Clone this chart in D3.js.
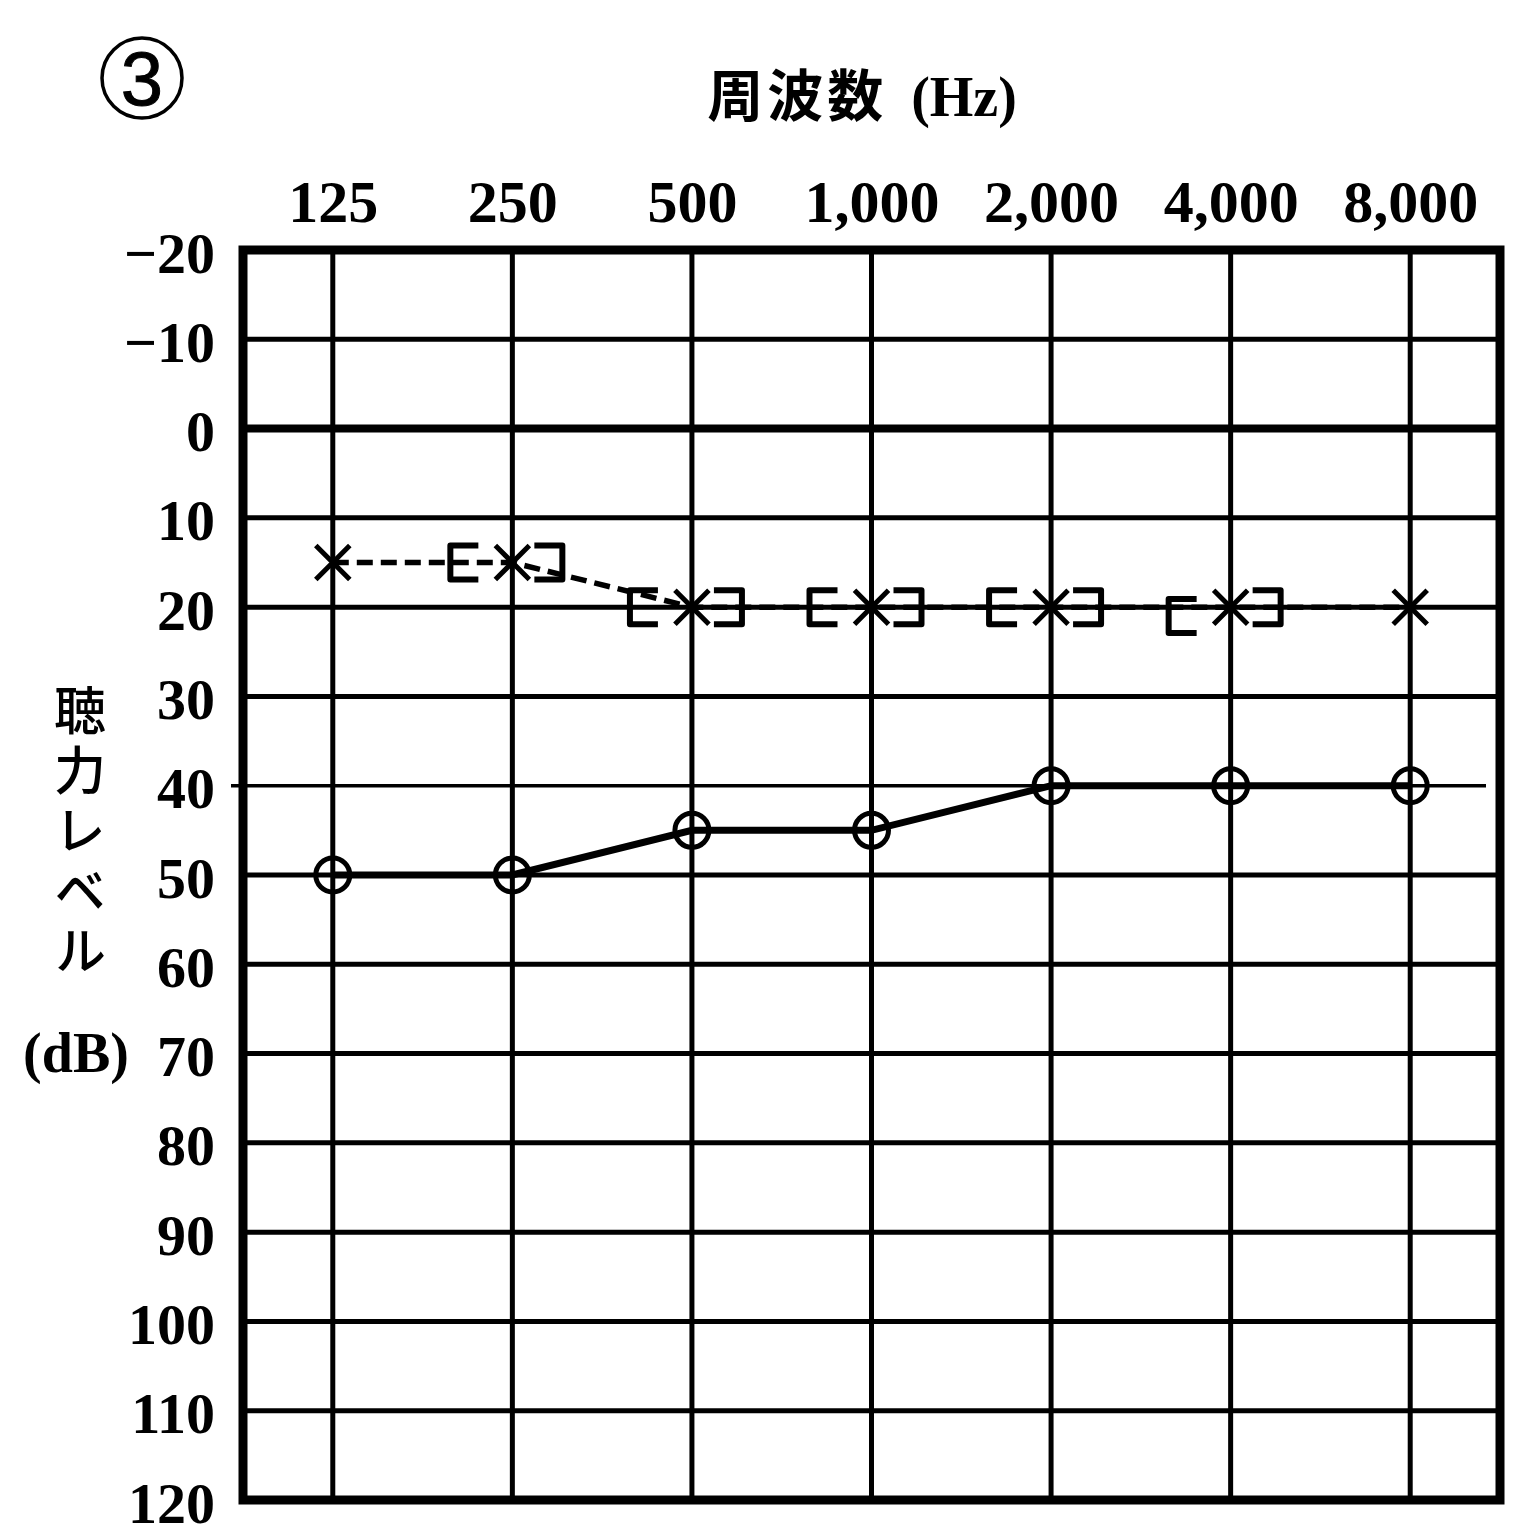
<!DOCTYPE html>
<html>
<head>
<meta charset="utf-8">
<script src="https://cdn.jsdelivr.net/npm/d3@7"></script>
<style>
  html, body { margin: 0; padding: 0; background: #fff; }
  svg { display: block; }
</style>
</head>
<body>
<svg id="chart" width="1513" height="1539"></svg>
<script>
// ---------- data ----------
const freqLabels = ["125", "250", "500", "1,000", "2,000", "4,000", "8,000"];
const dbTicks = [-20, -10, 0, 10, 20, 30, 40, 50, 60, 70, 80, 90, 100, 110, 120];
const rightAir = [50, 50, 45, 45, 40, 40, 40];          // O, solid line
const leftAir = [15, 15, 20, 20, 20, 20, 20];           // X, dashed line
const rightBone = [null, 15, 20, 20, 20, 21, null];     // "[" masked bone
const leftBone = [null, 15, 20, 20, 20, 20, null];      // "]" masked bone
const xTitle = "周波数";
const xTitleUnit = "(Hz)";
const yTitle = "聴力レベル";
const yTitleUnit = "(dB)";
const panelNumber = "3";

(function () {
// ---------- layout ----------
const svg = d3.select("#chart");
const pL = 243, pR = 1500, pT = 250, pB = 1500;
const serif = "'Liberation Serif', 'Times New Roman', serif";
const cjk = "'Noto Sans CJK JP', sans-serif";

const x = d3.scalePoint().domain(freqLabels).range([pL, pR]).padding(0.5);
const y = d3.scaleLinear().domain([-20, 120]).range([pT, pB]);

// vertical grid lines
svg.append("g").selectAll("line").data(freqLabels).join("line")
  .attr("x1", d => x(d)).attr("x2", d => x(d))
  .attr("y1", pT).attr("y2", pB)
  .attr("stroke", "#000").attr("stroke-width", 5);

// horizontal grid lines
svg.append("g").selectAll("line").data(dbTicks.filter(d => d !== -20 && d !== 120)).join("line")
  .attr("x1", d => d === 40 ? pL - 12 : pL)
  .attr("x2", d => d === 40 ? pR - 14 : pR)
  .attr("y1", d => y(d)).attr("y2", d => y(d))
  .attr("stroke", "#000")
  .attr("stroke-width", d => d === 0 ? 8 : (d === 40 ? 3.5 : 5));

// frame
svg.append("rect")
  .attr("x", pL).attr("y", pT)
  .attr("width", pR - pL).attr("height", pB - pT)
  .attr("fill", "none").attr("stroke", "#000").attr("stroke-width", 9);

// x axis (top)
const xAxis = svg.append("g")
  .attr("transform", `translate(0,${pT})`)
  .call(d3.axisTop(x).tickSize(0).tickPadding(28));
xAxis.select(".domain").remove();
xAxis.selectAll("text")
  .attr("font-family", serif).attr("font-weight", "bold")
  .attr("font-size", 60).attr("fill", "#000");

// y axis (left)
const yAxis = svg.append("g")
  .attr("transform", `translate(${pL},0)`)
  .call(d3.axisLeft(y).tickValues(dbTicks).tickSize(0).tickPadding(28)
    .tickFormat(d => d < 0 ? "\u2212" + Math.abs(d) : String(d)));
yAxis.select(".domain").remove();
yAxis.selectAll("text")
  .attr("font-family", serif).attr("font-weight", "bold")
  .attr("font-size", 58).attr("fill", "#000").attr("dy", "0.38em");

// x title
const xt = svg.append("text")
  .attr("x", 862).attr("y", 116)
  .attr("text-anchor", "middle").attr("fill", "#000");
xt.append("tspan").attr("font-family", cjk).attr("font-weight", 700)
  .attr("font-size", 56).attr("letter-spacing", 4).text(xTitle);
xt.append("tspan").attr("font-family", serif).attr("font-weight", "bold")
  .attr("font-size", 56).attr("dx", 24).text(xTitleUnit);

// y title (vertical)
svg.append("text")
  .attr("x", 80).attr("y", 684)
  .attr("font-family", cjk).attr("font-weight", 500)
  .attr("font-size", 52).attr("fill", "#000")
  .attr("letter-spacing", 8)
  .style("writing-mode", "vertical-rl")
  .style("text-orientation", "upright")
  .text(yTitle);
svg.append("text")
  .attr("x", 76).attr("y", 1072)
  .attr("text-anchor", "middle")
  .attr("font-family", serif).attr("font-weight", "bold")
  .attr("font-size", 56).attr("fill", "#000")
  .text(yTitleUnit);

// panel number ③
svg.append("circle").attr("cx", 142).attr("cy", 78).attr("r", 40)
  .attr("fill", "none").attr("stroke", "#000").attr("stroke-width", 3.5);
svg.append("text").attr("x", 142).attr("y", 105)
  .attr("text-anchor", "middle")
  .attr("font-family", "'Liberation Sans', Arial, sans-serif")
  .attr("font-size", 76).attr("fill", "#000")
  .attr("stroke", "#000").attr("stroke-width", 1)
  .text(panelNumber);

// ---------- series ----------
const ptsR = freqLabels.map((f, i) => ({ f, v: rightAir[i] }));
const ptsL = freqLabels.map((f, i) => ({ f, v: leftAir[i] }));
const line = d3.line().x(d => x(d.f)).y(d => y(d.v));

// left air: dashed line
svg.append("path").datum(ptsL).attr("d", line)
  .attr("fill", "none").attr("stroke", "#000")
  .attr("stroke-width", 5.5).attr("stroke-dasharray", "16 8");

// bone brackets
const br = 17;
const bone = svg.append("g").attr("fill", "none").attr("stroke", "#000")
  .attr("stroke-width", 6).attr("stroke-linejoin", "round");
bone.selectAll("path.rb").data(freqLabels.map((f, i) => ({ f, v: rightBone[i] })).filter(d => d.v !== null))
  .join("path").attr("class", "rb")
  .attr("d", d => {
    const cx = x(d.f), cy = y(d.v);
    const s = cx - 62, e = cx - 34;
    return `M${e},${cy - br}H${s}V${cy + br}H${e}`;
  });
bone.selectAll("path.lb").data(freqLabels.map((f, i) => ({ f, v: leftBone[i] })).filter(d => d.v !== null))
  .join("path").attr("class", "lb")
  .attr("d", d => {
    const cx = x(d.f), cy = y(d.v);
    const s = cx + 22, e = cx + 50;
    return `M${s},${cy - br}H${e}V${cy + br}H${s}`;
  });

// X markers
const xs = 17;
svg.append("g").selectAll("path").data(ptsL).join("path")
  .attr("d", d => {
    const cx = x(d.f), cy = y(d.v);
    return `M${cx - xs},${cy - xs}L${cx + xs},${cy + xs}M${cx - xs},${cy + xs}L${cx + xs},${cy - xs}`;
  })
  .attr("stroke", "#000").attr("stroke-width", 5).attr("fill", "none");

// right air: solid line + O
svg.append("path").datum(ptsR).attr("d", line)
  .attr("fill", "none").attr("stroke", "#000").attr("stroke-width", 7);
svg.append("g").selectAll("circle").data(ptsR).join("circle")
  .attr("cx", d => x(d.f)).attr("cy", d => y(d.v)).attr("r", 17)
  .attr("fill", "none").attr("stroke", "#000").attr("stroke-width", 5);
})();
</script>
</body>
</html>
